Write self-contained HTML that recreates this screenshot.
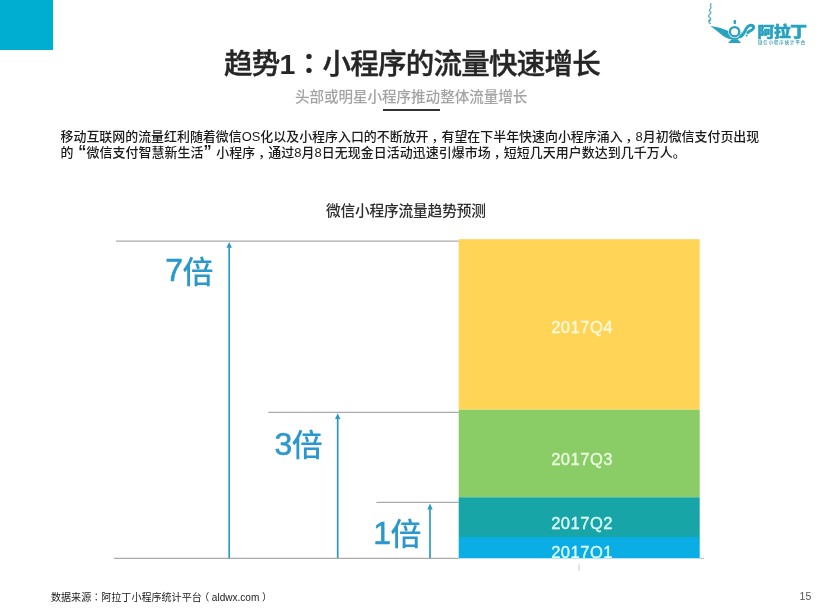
<!DOCTYPE html>
<html lang="zh-CN">
<head>
<meta charset="utf-8">
<title>趋势1：小程序的流量快速增长</title>
<style>
html,body{margin:0;padding:0;background:#fff;}
body{width:824px;height:614px;position:relative;overflow:hidden;
  font-family:"Liberation Sans","Noto Sans CJK SC",sans-serif;color:#222;}
.abs{position:absolute;white-space:nowrap;line-height:1;}
#corner{left:0;top:0;width:53px;height:50px;background:#00aed1;}
#title{left:224px;top:50px;font-size:28.5px;font-weight:500;color:#262626;letter-spacing:-0.75px;-webkit-text-stroke:0.4px #262626;}
.tc{font-family:"Liberation Sans","Noto Sans CJK TC",sans-serif;}
#subtitle{left:295px;top:90px;font-size:14.6px;font-weight:500;color:#a3a3a3;letter-spacing:-0.08px;}
#rule{left:383px;top:109px;width:57px;height:2px;background:#333;}
.body{left:60.5px;font-size:12.95px;color:#1a1a1a;font-weight:500;}
.cm{position:relative;left:3px;}
.q{display:inline-block;width:0.8em;font-size:1.25em;line-height:0.8;vertical-align:baseline;font-weight:700;}
.ql{text-align:right;}
.qr{text-align:left;}
#b1{top:130.5px;}
#b2{top:144.5px;letter-spacing:0.06px;}
#ctitle{left:326px;top:203.5px;font-size:14.7px;font-weight:500;color:#2c2c2c;letter-spacing:-0.17px;}
.mul{font-size:31px;font-weight:500;color:#2a98cc;letter-spacing:-0.5px;}
.mul b{font-weight:400;font-size:32px;-webkit-text-stroke:0.55px #2a98cc;letter-spacing:-0.6px;position:relative;top:-1.2px;}
.sl{font-size:16.6px;color:#f4fff4;left:551.2px;letter-spacing:0.45px;-webkit-text-stroke:0.3px #f4fff4;}
#brand{left:757.4px;top:24.5px;font-size:16.7px;font-weight:900;color:#27a2bf;letter-spacing:-0.2px;-webkit-text-stroke:0.6px #27a2bf;transform:scaleY(0.89);transform-origin:0 0;}
#tag{left:758.2px;top:40px;font-size:12px;font-weight:500;color:#2592b0;letter-spacing:2.6px;transform:scale(0.366);transform-origin:0 0;}
#foot{left:51px;top:592.8px;font-size:10.05px;color:#222;}
#pn{left:799.6px;top:591.3px;font-size:10.5px;color:#555;}
</style>
</head>
<body>
<div class="abs" id="corner"></div>

<div class="abs" id="title">趋势<span style="font-weight:700;-webkit-text-stroke:0">1</span><span class="tc" lang="zh-TW">：</span>小程序的流量快速增长</div>
<div class="abs" id="subtitle">头部或明星小程序推动整体流量增长</div>
<div class="abs" id="rule"></div>

<div class="abs body" id="b1">移动互联网的流量红利随着微信OS化以及小程序入口的不断放开<span class="cm">，</span>有望在下半年快速向小程序涌入<span class="cm">，</span>8月初微信支付页出现</div>
<div class="abs body" id="b2">的<span class="q ql">“</span>微信支付智慧新生活<span class="q qr">”</span>小程序<span class="cm">，</span>通过8月8日无现金日活动迅速引爆市场<span class="cm">，</span>短短几天用户数达到几千万人。</div>

<div class="abs" id="ctitle">微信小程序流量趋势预测</div>

<!-- chart shapes -->
<svg class="abs" style="left:0;top:0;" width="824" height="614" viewBox="0 0 824 614">
  <g stroke="#aaaaaa" stroke-width="1.25" fill="none">
    <line x1="116" y1="241" x2="458.7" y2="241"/>
    <line x1="268.3" y1="412.3" x2="458.7" y2="412.3"/>
    <line x1="376.4" y1="502.4" x2="458.7" y2="502.4"/>
    <line x1="114" y1="558.4" x2="458.7" y2="558.4"/>
    <line x1="699.6" y1="558.4" x2="704" y2="558.4" stroke="#c4c4c4"/>
    <line x1="579" y1="564.5" x2="579" y2="571" stroke="#d2d2d2" stroke-width="1.2"/>
  </g>
  <g stroke="#2b9cbd" stroke-width="1.7" fill="none">
    <line x1="229.2" y1="246" x2="229.2" y2="558"/>
    <line x1="337.7" y1="417" x2="337.7" y2="558"/>
    <line x1="430" y1="508" x2="430" y2="558"/>
  </g>
  <g fill="#2b9cbd">
    <path d="M229.2 242 L231.9 247.8 L226.5 247.8 Z"/>
    <path d="M337.7 413.3 L340.4 419.1 L335 419.1 Z"/>
    <path d="M430 503.6 L432.7 509.4 L427.3 509.4 Z"/>
  </g>
  <!-- logo lamp -->
  <g id="lamp" fill="#27a2bf" stroke="none">
    <path d="M710.2 25.9 C716.5 26.8 722.5 28.2 728.4 31 L741.6 32.2 C741.8 35.8 740 38.2 737.4 39.4 L731.8 39.4 C722.8 38 718.3 30.8 710.2 25.9 Z"/>
    <circle cx="734.6" cy="31.7" r="6.4" fill="#fff"/>
    <circle cx="734.6" cy="31.7" r="4.65" fill="none" stroke="#27a2bf" stroke-width="2.25"/>
    <ellipse cx="734.8" cy="22" rx="1.35" ry="2.2"/>
    <path d="M731.6 39.2 L737.6 39.2 L741.2 43 L728 43 Z"/>
    <path d="M740.5 36.8 C744.8 34.8 744.6 29.2 748 26.4 C751 24 754.2 25.6 753.5 28.2 C752.8 30.6 749.4 30.4 747.8 32.6" fill="none" stroke="#27a2bf" stroke-width="2.9" stroke-linecap="round"/>
    <circle cx="746.6" cy="35.4" r="1"/>
    <path d="M710.4 23.6 C705.6 21.4 713.8 19.6 709.4 17.2 C705.8 15.2 713.4 13.6 710 11.4 C707.6 9.8 712.6 8.4 710.6 6.6 C709.8 5.8 711.4 4.6 710.8 3.6" fill="none" stroke="#3fa3b4" stroke-width="1.3" stroke-linecap="round" opacity="0.85"/>
    <circle cx="709.6" cy="20.4" r="1.3" fill="#3fa3b4" opacity="0.7"/>
  </g>
  <rect x="458.7" y="239.2" width="241" height="170.5" fill="#ffd457"/>
  <rect x="458.7" y="409.7" width="241" height="87.6" fill="#8acc66"/>
  <rect x="458.7" y="497.3" width="241" height="39.7" fill="#18a5a8"/>
  <rect x="458.7" y="537" width="241" height="21.3" fill="#0aade4"/>
</svg>

<div class="abs mul" style="left:165.3px;top:255.5px;"><b>7</b>倍</div>
<div class="abs mul" style="left:274.5px;top:428.8px;"><b>3</b>倍</div>
<div class="abs mul" style="left:373.3px;top:518.2px;"><b>1</b>倍</div>


<div class="abs sl" style="top:319.5px;color:#fffbe0;-webkit-text-stroke-color:#fffbe0;">2017Q4</div>
<div class="abs sl" style="top:451.7px;color:#edffe2;-webkit-text-stroke-color:#edffe2;">2017Q3</div>
<div class="abs sl" style="top:515.6px;color:#e2ffff;-webkit-text-stroke-color:#e2ffff;">2017Q2</div>
<div class="abs" style="left:459px;top:537px;width:241px;height:21.3px;overflow:hidden;"><div class="abs sl" style="left:92.2px;top:7.6px;color:#e2ffff;-webkit-text-stroke-color:#e2ffff;">2017Q1</div></div>

<div class="abs" id="brand">阿拉丁</div>
<div class="abs" id="tag">微信小程序统计平台</div>
<div class="abs" id="foot">数据来源<span class="tc" lang="zh-TW">：</span>阿拉丁小程序统计平台<span style="position:relative;left:-2.6px">（</span>aldwx.com<span style="position:relative;left:2.6px">）</span></div>
<div class="abs" id="pn">15</div>
</body>
</html>
